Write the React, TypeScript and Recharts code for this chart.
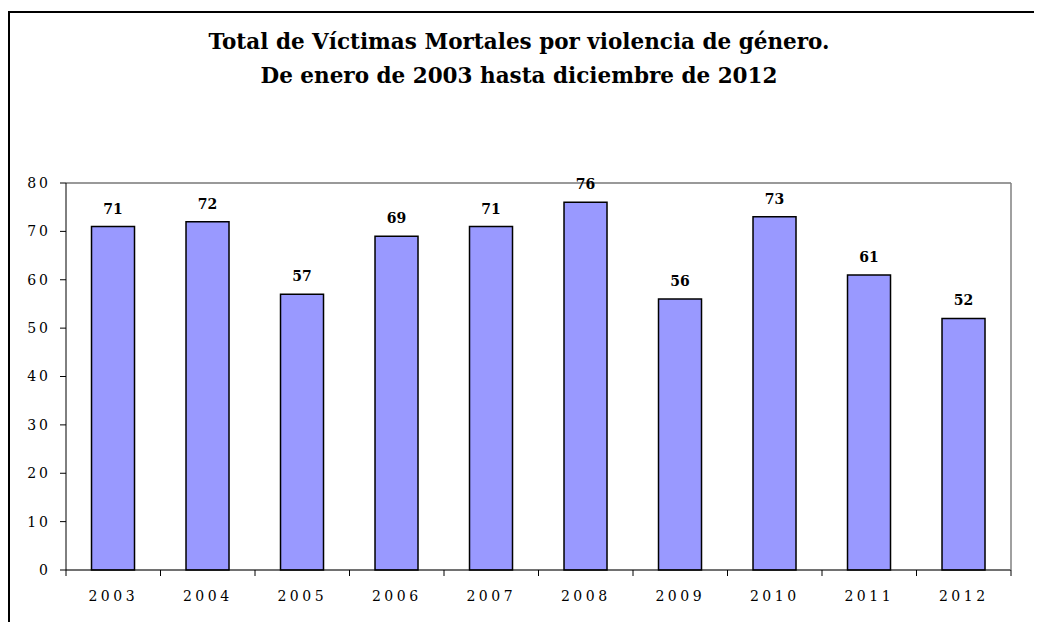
import React from 'react';
import { BarChart, Bar, XAxis, YAxis, CartesianGrid, LabelList, ReferenceLine } from 'recharts';

const years = ['2003', '2004', '2005', '2006', '2007', '2008', '2009', '2010', '2011', '2012'];
const victims = [71, 72, 57, 69, 71, 76, 56, 73, 61, 52];
const yTicks = [0, 10, 20, 30, 40, 50, 60, 70, 80];

const titleLines = [
    'Total de Víctimas Mortales por violencia de género.',
    'De enero de 2003 hasta diciembre de 2012',
];

const chartData = years.map((year, i) => ({ year, victims: victims[i] }));

const FONT = "'DejaVu Serif', 'Liberation Serif', serif";

const CHART_W = 1032;
const CHART_H = 609;
const MARGIN = { top: 170, right: 30, left: 0, bottom: 22 };
const Y_AXIS_W = 56;
const plotW = CHART_W - MARGIN.left - MARGIN.right - Y_AXIS_W - 1;
const band = plotW / years.length;

// ticks sit on the category boundaries, labels in the middle
const YearTick = (props: any) => {
    const { x, y, payload, index } = props;
    const left = x - band / 2;
    return (
        <g>
            <line x1={left} y1={y - 8} x2={left} y2={y - 2} stroke="#000" />
            {index === years.length - 1 && (
                <line x1={x + band / 2} y1={y - 8} x2={x + band / 2} y2={y - 2} stroke="#000" />
            )}
            <text x={x} y={y + 23} textAnchor="middle" fontFamily={FONT} fontSize={14} letterSpacing={3.5} fill="#000">
                {payload.value}
            </text>
        </g>
    );
};

const App: React.FC = () => {
    return (
        <div style={{ position: 'relative', marginTop: 3, width: 1034, height: 611, borderLeft: '2px solid #000', borderTop: '2px solid #000', background: '#fff' }}>
            <div style={{ position: 'absolute', left: -8, width: 1034, top: 12, textAlign: 'center', fontFamily: FONT, fontWeight: 'bold', fontSize: 21.5, lineHeight: '34px', color: '#000' }}>
                {titleLines.map((line) => (
                    <div key={line}>{line}</div>
                ))}
            </div>
            <BarChart width={CHART_W} height={CHART_H} data={chartData} margin={MARGIN} barCategoryGap="27%">
                <CartesianGrid horizontal vertical={false} stroke="#c8c8c8" />
                <XAxis
                    dataKey="year"
                    height={30}
                    axisLine={{ stroke: '#000' }}
                    tickLine={false}
                    tick={<YearTick />}
                    interval={0}
                />
                <YAxis
                    yAxisId="left"
                    width={Y_AXIS_W}
                    domain={[0, 80]}
                    ticks={yTicks}
                    interval={0}
                    axisLine={{ stroke: '#000' }}
                    tickLine={{ stroke: '#000' }}
                    tickSize={6}
                    tickMargin={9}
                    tick={{ fontFamily: FONT, fontSize: 14, fill: '#000', letterSpacing: 3 }}
                />
                <YAxis yAxisId="right" orientation="right" width={1} domain={[0, 80]} tick={false} tickLine={false} axisLine={{ stroke: '#808080', strokeWidth: 1.5 }} />
                <ReferenceLine yAxisId="left" y={80} stroke="#808080" strokeWidth={1.5} />
                <Bar yAxisId="left" dataKey="victims" fill="#9999ff" stroke="#000" strokeWidth={1.5} isAnimationActive={false}>
                    <LabelList dataKey="victims" position="top" offset={13} fontFamily={FONT} fontWeight="bold" fontSize={14} fill="#000" />
                </Bar>
            </BarChart>
        </div>
    );
};

export default App;
